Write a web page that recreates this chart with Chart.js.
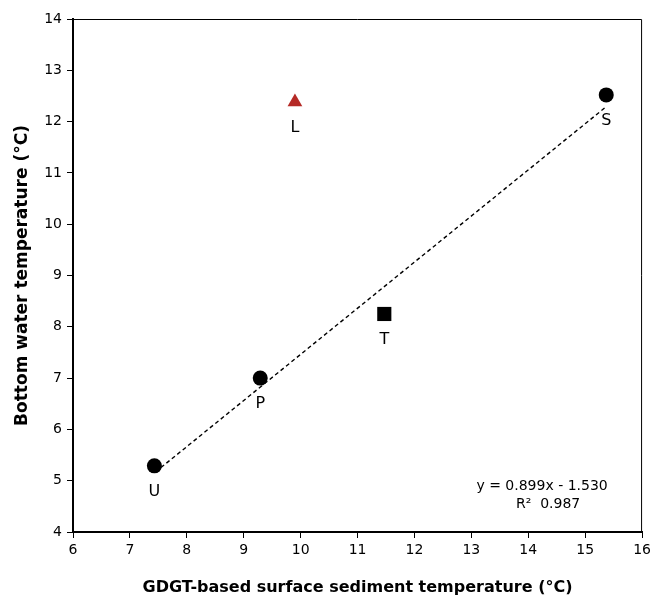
<!DOCTYPE html>
<html lang="en">
<head>
    <meta charset="UTF-8">
    <title>GDGT vs bottom water temperature</title>
    <script src="https://cdn.jsdelivr.net/npm/chart.js"></script>
    <style>
        body { margin: 0; background: #fff; }
        #wrap { width: 655px; height: 599px; }
    </style>
</head>
<body>
<div id="wrap"><canvas id="tempChart" width="655" height="599"></canvas></div>
<script>
    // site data
    const siteLabels = ['U', 'P', 'T', 'S', 'L'];
    const siteX = [7.43, 9.29, 11.47, 15.37, 9.9];
    const siteY = [5.29, 7.0, 8.25, 12.52, 12.38];
    const siteStyle = ['circle', 'circle', 'rect', 'circle', 'triangle'];
    const siteColor = ['#000', '#000', '#000', '#000', '#b52a26'];

    // regression line ends (y = 0.899x - 1.530)
    const trendX = [7.45, 15.38];
    const trendY = [5.17, 12.30];
    const eqLines = ['y = 0.899x - 1.530', 'R\u00b2  0.987'];

    const xTicks = [6, 7, 8, 9, 10, 11, 12, 13, 14, 15, 16];
    const yTicks = [4, 5, 6, 7, 8, 9, 10, 11, 12, 13, 14];

    const font = 'DejaVu Sans';

    const points = siteX.map((x, i) => ({ x: x, y: siteY[i] }));

    // labels under markers + box + equation
    const extras = {
        id: 'extras',
        afterDatasetsDraw(chart) {
            const ctx = chart.ctx;
            const xs = chart.scales.x, ys = chart.scales.y;
            const a = chart.chartArea;
            ctx.save();
            ctx.strokeStyle = '#000';
            ctx.lineWidth = 1;
            ctx.beginPath();
            ctx.moveTo(a.left, a.top + 0.5);
            ctx.lineTo(a.right - 0.5, a.top + 0.5);
            ctx.lineTo(a.right - 0.5, a.bottom);
            ctx.stroke();

            ctx.fillStyle = '#000';
            ctx.font = '16px "' + font + '"';
            ctx.textAlign = 'center';
            ctx.textBaseline = 'middle';
            siteLabels.forEach((lab, i) => {
                ctx.fillText(lab, xs.getPixelForValue(siteX[i]), ys.getPixelForValue(siteY[i]) + 26);
            });

            ctx.font = '14px "' + font + '"';
            ctx.fillText(eqLines[0], a.right - 100, a.bottom - 46);
            ctx.fillText(eqLines[1], a.right - 94, a.bottom - 28);
            ctx.restore();
        }
    };

    new Chart(document.getElementById('tempChart'), {
        type: 'scatter',
        data: {
            datasets: [{
                data: points,
                pointStyle: siteStyle,
                backgroundColor: siteColor,
                borderColor: siteColor,
                pointRadius: [7.5, 7.5, 10, 7.5, 8.5],
                borderWidth: 0,
                order: 1
            }, {
                type: 'line',
                data: trendX.map((x, i) => ({ x: x, y: trendY[i] })),
                borderColor: '#000',
                borderWidth: 1.4,
                borderDash: [4, 3],
                pointRadius: 0,
                fill: false,
                order: 2
            }]
        },
        options: {
            responsive: false,
            animation: false,
            layout: { padding: { left: 6, right: 6, top: 19, bottom: 2 } },
            plugins: { legend: { display: false }, tooltip: { enabled: false } },
            scales: {
                x: {
                    type: 'linear',
                    min: 6, max: 16,
                    afterBuildTicks: s => { s.ticks = xTicks.map(v => ({ value: v })); },
                    ticks: { color: '#000', font: { family: font, size: 14 }, padding: 4 },
                    grid: { drawOnChartArea: false, drawTicks: true, tickLength: 6, color: '#000' },
                    border: { color: '#000', width: 2 },
                    title: {
                        display: true,
                        text: 'GDGT-based surface sediment temperature (\u00b0C)',
                        color: '#000',
                        font: { family: font, size: 16, weight: 'bold' },
                        padding: { top: 15, bottom: 0 }
                    },
                    afterFit: s => { s.height = 65; }
                },
                y: {
                    type: 'linear',
                    min: 4, max: 14,
                    afterBuildTicks: s => { s.ticks = yTicks.map(v => ({ value: v })); },
                    ticks: { color: '#000', font: { family: font, size: 14 }, padding: 5 },
                    grid: { drawOnChartArea: false, drawTicks: true, tickLength: 6, color: '#000' },
                    border: { color: '#000', width: 2 },
                    title: {
                        display: true,
                        text: 'Bottom water temperature (\u00b0C)',
                        color: '#000',
                        font: { family: font, size: 17, weight: 'bold' },
                        padding: { top: 6, bottom: 4 }
                    },
                    afterFit: s => { s.width = 67; }
                }
            }
        },
        plugins: [extras]
    });
</script>
</body>
</html>
